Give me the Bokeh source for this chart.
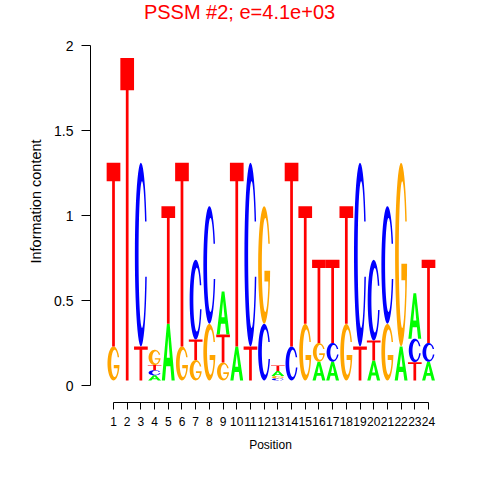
import math
import numpy as np
from bokeh.plotting import figure
from bokeh.models import Range1d, FixedTicker, NumeralTickFormatter, Label, ColumnDataSource
from bokeh.embed import file_html
from bokeh.resources import INLINE

# ---------------- data ----------------
positions = list(range(1, 25))
A_ic = [0, 0, 0, 0.03, 0.333, 0, 0, 0, 0.253, 0.2, 0, 0, 0.03, 0, 0, 0.11, 0.11, 0, 0, 0.117, 0, 0.2, 0.268, 0.11]
C_ic = [0, 0, 1.08, 0.03, 0, 0, 0.47, 0.692, 0, 0, 1.08, 0.333, 0.012, 0.2, 0, 0, 0.11, 0, 1.08, 0.475, 0.692, 0, 0.138, 0.11]
G_ic = [0.2, 0, 0, 0.09, 0, 0.2, 0.12, 0.333, 0.105, 0, 0, 0.692, 0.014, 0, 0.333, 0.11, 0, 0.333, 0, 0, 0.333, 1.08, 0, 0]
T_ic = [1.08, 1.897, 0.2, 0.03, 0.692, 1.08, 0.12, 0, 0.165, 1.08, 0.2, 0, 0.032, 1.08, 0.692, 0.49, 0.49, 0.692, 0.2, 0.117, 0, 0, 0.107, 0.49]
y_ticks = [0, 0.5, 1, 1.5, 2]
title_text = "PSSM #2; e=4.1e+03"
x_label = "Position"
y_label = "Information content"

# ---------------- styles ----------------
COLORS = {"A": "#00FF00", "C": "#0000FF", "G": "#FFA500", "T": "#FF0000"}
BASE = 0.03
FONT = "Liberation Sans"

# ---------------- letter shapes (unit box) ----------------
def arc(cx, cy, rx, ry, t0, t1, n=48):
    t = np.linspace(t0, t1, n)
    return list(cx + rx * np.cos(t)), list(cy + ry * np.sin(t))

O = (0.5, 0.5, 0.44, 0.5)
I = (0.58, 0.5, 0.25, 0.40)
YT, YB = 0.68, 0.38

def shape_C():
    to0 = math.asin((YT - O[1]) / O[3]); to1 = 2 * math.pi - math.asin((O[1] - YB) / O[3])
    ti0 = math.asin((YT - I[1]) / I[3]); ti1 = 2 * math.pi - math.asin((I[1] - YB) / I[3])
    ox, oy = arc(*O, to0, to1)
    ix, iy = arc(*I, ti1, ti0)
    return [[(ox + ix, oy + iy)]]

def shape_G():
    to0 = math.asin((YT - O[1]) / O[3]); to1 = 2 * math.pi - math.asin((O[1] - 0.45) / O[3])
    ti0 = math.asin((YT - I[1]) / I[3])
    xs = 0.80
    ti1 = 2 * math.pi - math.acos((xs - I[0]) / I[2])
    ox, oy = arc(*O, to0, to1)
    ix, iy = arc(*I, ti1, ti0)
    bx = [0.52, 0.52, xs]
    by = [0.45, 0.36, 0.36]
    return [[(ox + bx + ix, oy + by + iy)]]

def shape_A():
    outer = ([0.03, 0.40, 0.60, 0.97, 0.74, 0.655, 0.345, 0.26],
             [0.0, 1.0, 1.0, 0.0, 0.0, 0.25, 0.25, 0.0])
    hole = ([0.39, 0.61, 0.5], [0.40, 0.40, 0.78])
    return [[outer, hole]]

def shape_T():
    return [[([0, 1, 1, 0.6, 0.6, 0.4, 0.4, 0], [1, 1, 0.9, 0.9, 0, 0, 0.9, 0.9])]]

SHAPES = {"A": shape_A(), "C": shape_C(), "G": shape_G(), "T": shape_T()}

# ---------------- stack letters ----------------
xs_all, ys_all, cols = [], [], []
for i, pos in enumerate(positions):
    stack = [(h, L) for L, h in (("A", A_ic[i]), ("C", C_ic[i]), ("G", G_ic[i]), ("T", T_ic[i])) if h > 0]
    stack.sort()
    y0 = BASE
    for h, L in stack:
        polys_x, polys_y = [], []
        for poly in SHAPES[L]:
            rx_, ry_ = [], []
            for (us, vs) in poly:
                rx_.append([pos - 0.5 + u for u in us])
                ry_.append([y0 + v * h for v in vs])
            polys_x.append(rx_)
            polys_y.append(ry_)
        xs_all.append(polys_x)
        ys_all.append(polys_y)
        cols.append(COLORS[L])
        y0 += h

src = ColumnDataSource(dict(xs=xs_all, ys=ys_all, color=cols))

# ---------------- figure ----------------
W, H = 464, 464
FL, FR, FT, FB = 90, 450, 0, 402          # frame edges in pixels
px_per_x = 315 / 23.0                      # 1 -> 113px, 24 -> 428px
px_per_y = 170.0                           # 0 -> 385px, 2 -> 45px
x_start = 1 - (113 - FL) / px_per_x
y_start = -(FB - 385) / px_per_y

p = figure(width=W, height=H, output_backend="svg", toolbar_location=None,
           x_range=Range1d(x_start, x_start + (FR - FL) / px_per_x),
           y_range=Range1d(y_start, y_start + (FB - FT) / px_per_y),
           min_border_left=FL, min_border_right=W - FR,
           min_border_top=FT, min_border_bottom=H - FB)

p.multi_polygons(xs="xs", ys="ys", fill_color="color", line_color=None, source=src)

# title as a label at the very top, centred at ~239px
p.add_layout(Label(x=1 + (239 - 113) / px_per_x, y=(385 - 0) / px_per_y,
                   text=title_text, text_align="center", text_baseline="top",
                   text_color="#FF0000", text_font=FONT, text_font_size="20px"))

p.xgrid.visible = False
p.ygrid.visible = False
p.outline_line_color = None
p.background_fill_color = "white"

xa = p.xaxis[0]
xa.ticker = FixedTicker(ticks=positions)
xa.bounds = (positions[0], positions[-1])
xa.major_tick_out = 7
xa.major_tick_in = 0
xa.minor_tick_out = 0
xa.major_label_standoff = 7
xa.major_label_text_font = FONT
xa.major_label_text_font_size = "12px"
xa.major_label_text_color = "black"
xa.axis_label = x_label
xa.axis_label_text_font = FONT
xa.axis_label_text_font_size = "12px"
xa.axis_label_text_font_style = "normal"
xa.axis_label_text_color = "black"
xa.axis_label_standoff = 9

ya = p.yaxis[0]
ya.ticker = FixedTicker(ticks=y_ticks)
ya.formatter = NumeralTickFormatter(format="0.[0]")
ya.bounds = (y_ticks[0], y_ticks[-1])
ya.major_tick_out = 9
ya.major_tick_in = 0
ya.minor_tick_out = 0
ya.major_label_standoff = 8
ya.major_label_text_font = FONT
ya.major_label_text_font_size = "14px"
ya.major_label_text_color = "black"
ya.axis_label = y_label
ya.axis_label_text_font = FONT
ya.axis_label_text_font_size = "14.5px"
ya.axis_label_text_font_style = "normal"
ya.axis_label_text_color = "black"
ya.axis_label_standoff = 7

for ax in (xa, ya):
    ax.axis_line_color = "black"
    ax.major_tick_line_color = "black"

open("out.html", "w").write(file_html(p, INLINE))
